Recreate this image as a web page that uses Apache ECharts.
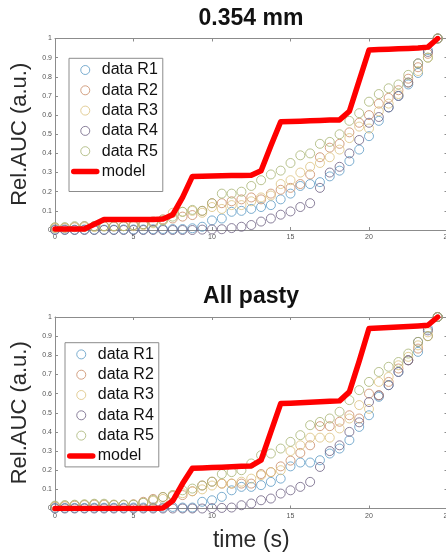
<!DOCTYPE html>
<html>
<head>
<meta charset="utf-8">
<script src="https://cdn.jsdelivr.net/npm/echarts@6/dist/echarts.min.js"></script>
<style>
  html, body { margin: 0; padding: 0; background: #ffffff; }
  #chart { width: 446px; height: 556px; }
</style>
</head>
<body>
<div id="chart"></div>
<script>
// Sample times (s)
const time = [0, 0.625, 1.25, 1.875, 2.5, 3.125, 3.75, 4.375, 5, 5.625,
  6.25, 6.875, 7.5, 8.125, 8.75, 9.375, 10, 10.625, 11.25, 11.875,
  12.5, 13.125, 13.75, 14.375, 15, 15.625, 16.25, 16.875, 17.5, 18.125,
  18.75, 19.375, 20, 20.625, 21.25, 21.875, 22.5, 23.125, 23.75, 24.375];

const seriesNames = ['data R1', 'data R2', 'data R3', 'data R4', 'data R5', 'model'];
const panelTitles = ['0.354 mm', 'All pasty'];

// Panel 1: 0.354 mm
const thinR1 = [0.003, 0.003, 0.002, 0.003, 0.002, 0.002, 0.002, 0.003, 0.003, 0.003,
  0.004, 0.005, 0.005, 0.005, 0.009, 0.017, 0.05, 0.06, 0.095, 0.10,
  0.11, 0.12, 0.13, 0.16, 0.19, 0.23, 0.24, 0.25, 0.28, 0.31,
  0.36, 0.42, 0.49, 0.57, 0.64, 0.70, 0.76, 0.82, 0.94, 1.0];
const thinR2 = [0.01, 0.01, 0.015, 0.02, 0.02, 0.02, 0.018, 0.02, 0.025, 0.03,
  0.045, 0.056, 0.06, 0.07, 0.078, 0.10, 0.14, 0.14, 0.15, 0.16,
  0.17, 0.16, 0.19, 0.21, 0.22, 0.24, 0.29, 0.38, 0.43, 0.45,
  0.51, 0.56, 0.60, 0.66, 0.69, 0.73, 0.79, 0.85, 0.92, 1.0];
const thinR3 = [0.01, 0.012, 0.015, 0.015, 0.015, 0.018, 0.02, 0.02, 0.02, 0.025,
  0.035, 0.05, 0.09, 0.095, 0.10, 0.09, 0.12, 0.11, 0.13, 0.13,
  0.15, 0.17, 0.18, 0.24, 0.26, 0.30, 0.33, 0.35, 0.38, 0.42,
  0.48, 0.54, 0.53, 0.62, 0.66, 0.71, 0.77, 0.83, 0.90, 1.0];
const thinR4 = [0.0, 0.0, 0.0, 0.0, 0.0, 0.0, 0.0, 0.0, 0.0, 0.0,
  0.0, 0.0, 0.0, 0.0, 0.0, 0.002, 0.003, 0.004, 0.01, 0.017,
  0.026, 0.044, 0.06, 0.08, 0.097, 0.12, 0.14, 0.22, 0.30, 0.33,
  0.40, 0.47, 0.56, 0.59, 0.64, 0.70, 0.77, 0.87, 0.93, 1.0];
const thinR5 = [0.015, 0.015, 0.02, 0.02, 0.02, 0.02, 0.02, 0.02, 0.025, 0.03,
  0.04, 0.05, 0.07, 0.095, 0.105, 0.10, 0.14, 0.19, 0.19, 0.20,
  0.23, 0.26, 0.29, 0.31, 0.35, 0.39, 0.40, 0.45, 0.46, 0.50,
  0.57, 0.61, 0.67, 0.71, 0.74, 0.76, 0.81, 0.87, 0.90, 1.0];
const thinModel = [0.005, 0.005, 0.005, 0.005, 0.03, 0.055, 0.055, 0.055, 0.055, 0.055,
  0.055, 0.057, 0.08, 0.17, 0.28, 0.281, 0.282, 0.283, 0.284, 0.285,
  0.286, 0.31, 0.44, 0.565, 0.566, 0.568, 0.57, 0.572, 0.574, 0.575,
  0.62, 0.78, 0.94, 0.942, 0.944, 0.946, 0.948, 0.95, 0.955, 1.0];

// Panel 2: All pasty
const pastyR1 = [0.003, 0.003, 0.003, 0.003, 0.004, 0.004, 0.004, 0.004, 0.005, 0.005,
  0.005, 0.005, 0.008, 0.005, 0.005, 0.035, 0.043, 0.061, 0.095, 0.113,
  0.113, 0.122, 0.139, 0.156, 0.22, 0.24, 0.24, 0.252, 0.287, 0.313,
  0.357, 0.426, 0.487, 0.583, 0.644, 0.713, 0.774, 0.818, 0.94, 1.0];
const pastyR2 = [0.01, 0.012, 0.015, 0.018, 0.02, 0.02, 0.018, 0.02, 0.022, 0.035,
  0.05, 0.06, 0.065, 0.07, 0.09, 0.12, 0.14, 0.13, 0.13, 0.13,
  0.13, 0.18, 0.19, 0.22, 0.25, 0.29, 0.33, 0.43, 0.43, 0.453,
  0.487, 0.47, 0.60, 0.592, 0.661, 0.731, 0.774, 0.835, 0.90, 1.0];
const pastyR3 = [0.012, 0.015, 0.018, 0.02, 0.022, 0.02, 0.02, 0.018, 0.02, 0.03,
  0.04, 0.05, 0.07, 0.08, 0.09, 0.10, 0.12, 0.13, 0.13, 0.14,
  0.156, 0.174, 0.19, 0.20, 0.30, 0.33, 0.37, 0.37, 0.37, 0.418,
  0.47, 0.54, 0.52, 0.661, 0.687, 0.748, 0.792, 0.852, 0.92, 1.0];
const pastyR4 = [0.0, 0.0, 0.0, 0.0, 0.0, 0.0, 0.0, 0.0, 0.0, 0.0,
  0.0, 0.0, 0.0, 0.0, 0.0, 0.0, 0.002, 0.003, 0.005, 0.017,
  0.026, 0.043, 0.052, 0.078, 0.095, 0.113, 0.139, 0.217, 0.30, 0.33,
  0.40, 0.45, 0.556, 0.59, 0.644, 0.713, 0.774, 0.87, 0.93, 1.0];
const pastyR5 = [0.015, 0.018, 0.02, 0.022, 0.025, 0.025, 0.02, 0.02, 0.02, 0.03,
  0.045, 0.06, 0.07, 0.095, 0.104, 0.12, 0.14, 0.18, 0.19, 0.20,
  0.235, 0.278, 0.287, 0.313, 0.348, 0.383, 0.435, 0.452, 0.47, 0.505,
  0.566, 0.618, 0.661, 0.713, 0.74, 0.765, 0.809, 0.87, 0.90, 1.0];
const pastyModel = [0, 0, 0, 0, 0, 0, 0, 0, 0, 0,
  0, 0.003, 0.04, 0.13, 0.21, 0.212, 0.214, 0.216, 0.218, 0.22,
  0.222, 0.252, 0.40, 0.548, 0.55, 0.552, 0.555, 0.557, 0.56, 0.562,
  0.609, 0.77, 0.94, 0.942, 0.945, 0.948, 0.95, 0.953, 0.957, 1.0];

const xTicks = { min: 0, max: 25, step: 5 };
const yTicks = { min: 0, max: 1, step: 0.1 };

// Styling
const markerColors = ['#5b9ac4', '#c98b65', '#dcc27e', '#6e6283', '#a8b474'];
const modelColor = '#ff0000';
const boxColor = '#8c8c8c';
const tickLabelColor = '#555555';
const font = '"Liberation Sans", Arial, Helvetica, sans-serif';

const panels = [
  { title: panelTitles[0], runs: [thinR1, thinR2, thinR3, thinR4, thinR5], model: thinModel,
    top: 38.5, titleTop: 7, legend: { left: 69, top: 58.3, padBottom: 12 }, xName: '' },
  { title: panelTitles[1], runs: [pastyR1, pastyR2, pastyR3, pastyR4, pastyR5], model: pastyModel,
    top: 317, titleTop: 285, legend: { left: 65, top: 342.7, padBottom: 3 }, xName: 'time (s)' }
];

const pairs = (ys) => time.map((t, i) => [t, ys[i]]);

const grid = [], xAxis = [], yAxis = [], series = [], title = [], legend = [];

panels.forEach((p, g) => {
  grid.push({ left: 55, top: p.top, width: 392.5, height: 191.5, outerBoundsMode: 'none', containLabel: false });

  title.push({
    text: p.title, left: 251, top: p.titleTop, textAlign: 'center', padding: 0,
    textStyle: { fontFamily: font, fontSize: 23, fontWeight: 'bold', color: '#111111' }
  });

  const lineStyle = { color: boxColor, width: 1 };
  ['bottom', 'top'].forEach((pos) => {
    xAxis.push({
      gridIndex: g, type: 'value', position: pos,
      min: xTicks.min, max: xTicks.max, interval: xTicks.step,
      axisLine: { show: true, onZero: false, lineStyle },
      axisTick: { show: true, inside: true, length: 3, lineStyle },
      axisLabel: { show: pos === 'bottom', fontSize: 7, color: tickLabelColor, margin: 4,
                   fontFamily: font, showMaxLabel: true, showMinLabel: true },
      splitLine: { show: false },
      name: pos === 'bottom' ? p.xName : '',
      nameLocation: 'middle', nameGap: 21,
      nameTextStyle: { fontFamily: font, fontSize: 23, color: '#2a2a2a' }
    });
  });
  ['left', 'right'].forEach((pos) => {
    yAxis.push({
      gridIndex: g, type: 'value', position: pos,
      min: yTicks.min, max: yTicks.max, interval: yTicks.step,
      axisLine: { show: true, onZero: false, lineStyle },
      axisTick: { show: true, inside: true, length: 3, lineStyle },
      axisLabel: { show: pos === 'left', fontSize: 7, color: tickLabelColor, margin: 3,
                   fontFamily: font },
      splitLine: { show: false },
      name: pos === 'left' ? 'Rel.AUC (a.u.)' : '',
      nameLocation: 'middle', nameGap: 20,
      nameTextStyle: { fontFamily: font, fontSize: 22, color: '#2a2a2a' }
    });
  });

  p.runs.forEach((ys, k) => {
    series.push({
      type: 'scatter', name: seriesNames[k],
      xAxisIndex: g * 2, yAxisIndex: g * 2,
      data: pairs(ys), symbol: 'circle', symbolSize: 9, clip: false,
      itemStyle: { color: 'rgba(255,255,255,0)', borderColor: markerColors[k], borderWidth: 1 },
      emphasis: { disabled: true }, z: 2
    });
  });
  series.push({
    type: 'line', name: seriesNames[5],
    xAxisIndex: g * 2, yAxisIndex: g * 2,
    data: pairs(p.model), symbol: 'none', showSymbol: false,
    lineStyle: { color: modelColor, width: 5.5, join: 'round', cap: 'round' },
    itemStyle: { color: modelColor },
    emphasis: { disabled: true }, z: 3
  });

  legend.push({
    left: p.legend.left, top: p.legend.top, orient: 'vertical',
    selectedMode: false,
    itemWidth: 23, itemHeight: 9, itemGap: 4.3,
    padding: [3.7, 5, p.legend.padBottom, 2],
    borderColor: boxColor, borderWidth: 1, backgroundColor: '#ffffff',
    itemStyle: { borderWidth: 1 },
    lineStyle: { width: 5.5 },
    textStyle: { fontFamily: font, fontSize: 16, lineHeight: 16, color: '#111111' },
    data: seriesNames.map((n) => n === 'model'
      ? { name: n, itemStyle: { opacity: 0, borderWidth: 0, color: 'rgba(0,0,0,0)' } }
      : n)
  });
});

const chart = echarts.init(document.getElementById('chart'), null, { renderer: 'canvas' });
chart.setOption({
  backgroundColor: '#ffffff',
  animation: false,
  title, grid, xAxis, yAxis, legend, series
});
</script>
</body>
</html>
